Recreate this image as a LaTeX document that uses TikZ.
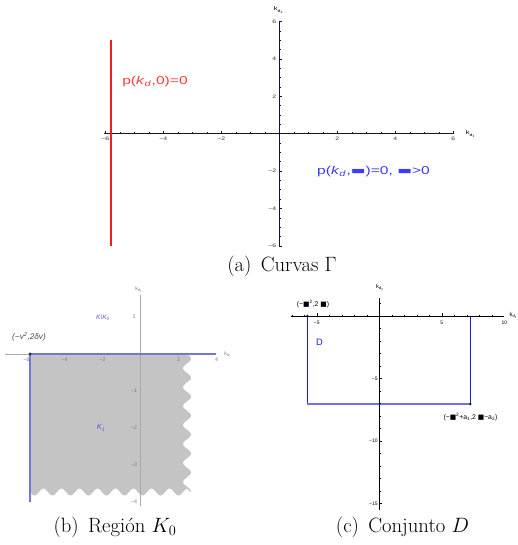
\documentclass[tikz,border=0pt]{standalone}
\usepackage{fontspec}
\usepackage{graphicx}
\newfontfamily\arial{Liberation Sans}
\newfontfamily\dejavu{DejaVu Sans}
\newcommand\widetxt[1]{\scalebox{1.37}[1]{#1}}
\newcommand\sqb{{\dejavu\char"25A0}}
\newcommand\barb{{\dejavu\char"25AC}}
\definecolor{axisA}{RGB}{20,20,50}
\definecolor{redA}{RGB}{240,30,30}
\definecolor{redT}{RGB}{255,60,60}
\definecolor{blueT}{RGB}{60,60,255}
\definecolor{grayB}{RGB}{196,196,196}
\definecolor{blueB}{RGB}{115,115,225}
\definecolor{axisB}{RGB}{170,170,170}
\definecolor{lblB}{RGB}{120,120,120}
\definecolor{blueC}{RGB}{25,25,235}
\definecolor{blueCl}{RGB}{110,110,255}
\tikzset{
  axa/.style={line width=1.1pt, draw=axisA},
  ticka/.style={line width=0.6pt, draw=axisA},
  tlblA/.style={font=\arial\fontsize{5}{5}\selectfont, inner sep=0pt, text=black!80},
  axlblA/.style={font=\arial\fontsize{5.5}{6}\selectfont, inner sep=0pt},
  bigA/.style={font=\arial\fontsize{11.4}{13}\selectfont, inner sep=0pt},
  caption/.style={font=\fontsize{20.7}{24}\selectfont, inner sep=0pt},
  axb/.style={line width=0.6pt, draw=axisB},
  tlblB/.style={font=\arial\fontsize{5.3}{6}\selectfont, inner sep=0pt, text=lblB},
  txtB/.style={font=\arial\itshape\fontsize{8.2}{9}\selectfont, inner sep=0pt, text=black!70},
  axc/.style={line width=0.9pt, draw=black},
  tickc/.style={line width=0.5pt, draw=black},
  tlblC/.style={font=\arial\fontsize{5}{5}\selectfont, inner sep=0pt},
  txtC/.style={font=\arial\fontsize{6.8}{7}\selectfont, inner sep=0pt},
}
\begin{document}
\begin{tikzpicture}[x=1pt,y=-1pt]
\useasboundingbox[fill=white] (0,0) rectangle (517,545);

% ---------------- panel (a) ----------------
\begin{scope}[shift={(279.3,133.7)},x=29pt,y=18.7pt]
  \draw[axa] (-6.05,0) -- (6,0);
  \draw[axa] (0,-6) -- (0,6);
  \foreach \u in {-6,-5.5,...,6.01} \draw[ticka] (\u,0) -- ++(0,1.6pt);
  \foreach \u in {-6,-4,-2,2,4,6} \draw[ticka] (\u,0) -- ++(0,3pt);
  \foreach \v in {-6,-5.5,...,6.01} \draw[ticka] (0,\v) -- ++(1.6pt,0);
  \foreach \v in {-6,-4,-2,2,4,6} \draw[ticka] (0,\v) -- ++(3pt,0);
  \foreach \u/\t [count=\i] in {-6/−6,-4/−4,-2/−2,2/2,4/4,6/6}
    \node[tlblA] (xa\i) at (\u,-0.26) {\widetxt{\t}};
  \foreach \v/\t [count=\i] in {-6/−6,-4/−4,-2/−2,2/2,4/4,6/6}
    \node[tlblA, anchor=east] (ya\i) at ([xshift=-3pt]0,\v) {\widetxt{\t}};
  \draw[line width=1.5pt, draw=redA] (-5.8,-6) -- (-5.8,5);
\end{scope}
\node[axlblA] (kd2a) at (279,10) {\widetxt{k\textsubscript{d\textsubscript{2}}}};
\node[axlblA] (kd1a) at (471,134) {\widetxt{k\textsubscript{d\textsubscript{1}}}};
\node[bigA, text=redT] (pa) at (155,81.5) {\widetxt{p(\textit{k}\textsubscript{\textit{d}},0)=0}};
\node[bigA, text=blueT] (pb) at (373.5,171.5) {\widetxt{p(\textit{k}\textsubscript{\textit{d}},\barb)=0, \barb>0}};
\node[caption] (capa) at (282,266.5) {(a)\hspace{0.45em}Curvas $\Gamma$};

% ---------------- panel (b) ----------------
\fill[grayB] (30,354) -- (186,354)
  -- plot[domain=354:492,samples=120] ({187+4*sin(19*(\x-354))},\x)
  -- plot[domain=187:30,samples=120] (\x,{492+3.5*sin(20*(\x-30))})
  -- cycle;
\draw[axb] (5,354) -- (216,354);
\draw[axb] (140.5,295) -- (140.5,506);
\draw[line width=1.5pt, draw=blueB] (30,354) -- (216,354);
\draw[line width=1.5pt, draw=blueB] (30,354) -- (30,502);
\fill[black!80] (30,354) circle (1.6);
\foreach \x/\t [count=\i] in {26.5/−6,64.5/−4,102.5/−2,178.5/2,216.5/4}
  \node[tlblB] (xb\i) at (\x,360) {\t};
\foreach \y/\t [count=\i] in {317/1,391/−1,428/−2,465/−3,502/−4}
  \node[tlblB] (yb\i) at (134,\y) {\t};
\node[tlblB, text=lblB] (kd2b) at (139,290) {k\textsubscript{d\textsubscript{2}}};
\node[tlblB, text=lblB] (kd1b) at (228,355) {k\textsubscript{d\textsubscript{1}}};
\node[txtB] (nub) at (29,337) {(−v\textsuperscript{2},2δv)};
\node[txtB, text=blueB!80!blue, font=\arial\itshape\fontsize{6.5}{7}\selectfont] (kk0) at (103,318) {K\textbackslash K\textsubscript{0}};
\node[txtB, text=blueB!70!blue, font=\arial\itshape\fontsize{7.5}{8}\selectfont] (k1) at (101,428) {K\textsubscript{1}};
\node[caption] (capb) at (115,527) {(b)\hspace{0.45em}Región $K_0$};

% ---------------- panel (c) ----------------
\begin{scope}[shift={(379.3,316)},x=12.5pt,y=12.5pt]
  \draw[line width=1.0pt, draw=blueC] (-5.76,0) -- (-5.76,-7.04);
  \draw[line width=1.0pt, draw=blueC] (7.28,0) -- (7.28,-7.04);
  \draw[line width=1.3pt, draw=blueCl] (-5.76,-7.04) -- (7.28,-7.04);
  \draw[axc] (-7.1,0) -- (9.95,0);
  \draw[axc] (0,1.45) -- (0,-15.5);
  \foreach \u in {-7,...,9} \draw[tickc] (\u,0) -- ++(0,1.5pt);
  \foreach \u in {-5,5} \draw[tickc] (\u,0) -- ++(0,2.8pt);
  \foreach \v in {1,0,...,-15} \draw[tickc] (0,\v) -- ++(1.5pt,0);
  \foreach \v in {-5,-10,-15} \draw[tickc] (0,\v) -- ++(2.8pt,0);
  \foreach \u/\t [count=\i] in {-5/−5,5/5,10/10}
    \node[tlblC] (xc\i) at ([yshift=-6.5pt]\u,0) {\t};
  \foreach \v/\t [count=\i] in {-5/−5,-10/−10,-15/−15}
    \node[tlblC, anchor=east] (yc\i) at ([xshift=-1.5pt]0,\v) {\t};
  \fill (-5.76,0) circle (1.3pt);
  \fill (7.28,-7.04) circle (1.3pt);
\end{scope}
\node[tlblC, font=\arial\fontsize{5.8}{6}\selectfont] (kd2c) at (380,287) {k\textsubscript{d\textsubscript{2}}};
\node[tlblC, font=\arial\fontsize{5.8}{6}\selectfont, anchor=west] (kd1c) at (509.5,315) {k\textsubscript{d\textsubscript{1}}};
\node[txtC] (lc1) at (313,304) {(−\sqb\textsuperscript{2},2 \sqb)};
\node[txtC] (lc2) at (470.5,417) {(−\sqb\textsuperscript{2}+a\textsubscript{1},2 \sqb−a\textsubscript{2})};
\node[font=\arial\fontsize{9.3}{10}\selectfont, text=blueC, inner sep=0pt] (dl) at (319.5,342) {D};
\node[caption] (capc) at (402.5,527) {(c)\hspace{0.45em}Conjunto $D$};
\end{tikzpicture}
\end{document}
